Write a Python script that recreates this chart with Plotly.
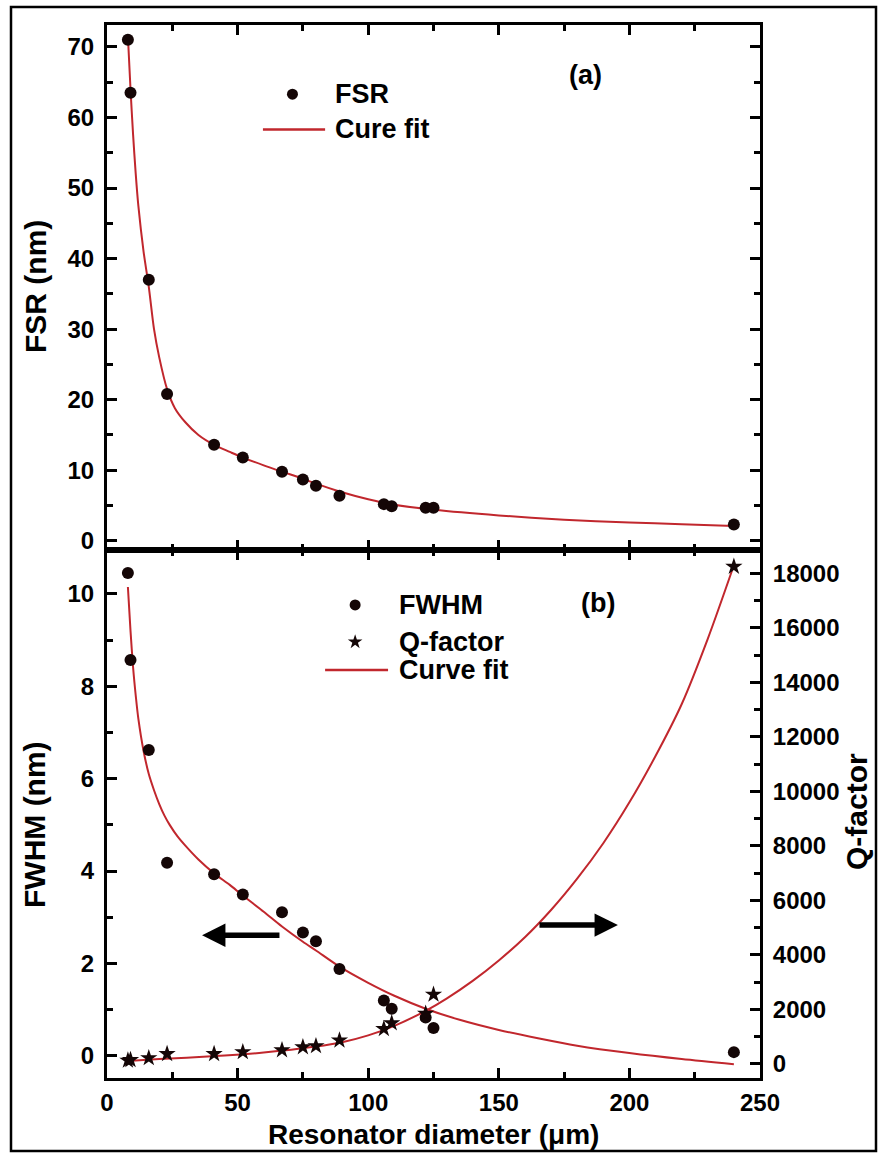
import plotly.graph_objects as go

# ---------------- data ----------------
diam_fsr = [8, 9, 16, 23, 41, 52, 67, 75, 80, 89, 106, 109, 122, 125, 240]
fsr_nm = [71.0, 63.5, 37.0, 20.8, 13.6, 11.8, 9.8, 8.7, 7.8, 6.4, 5.2, 4.9, 4.7, 4.7, 2.3]

fsr_fit_x = [8, 9, 10, 11, 12, 14, 16, 18, 20, 23, 26, 30, 35, 41, 47, 52, 60, 67, 75, 80,
             89, 100, 110, 125, 150, 175, 200, 220, 240]
fsr_fit_y = [71.5, 64.0, 57.5, 52.0, 47.5, 41.0, 36.0, 30.0, 26.0, 21.5, 18.8, 16.8, 15.0,
             13.6, 12.6, 11.8, 10.7, 9.8, 8.8, 8.1, 7.0, 5.9, 5.1, 4.4, 3.6, 3.0, 2.6, 2.35, 2.1]

diam_b = [8, 9, 16, 23, 41, 52, 67, 75, 80, 89, 106, 109, 122, 125, 240]
fwhm_nm = [10.45, 8.57, 6.62, 4.18, 3.93, 3.49, 3.11, 2.67, 2.48, 1.88, 1.20, 1.02, 0.83, 0.60, 0.08]
q_factor = [130, 150, 220, 370, 370, 440, 510, 620, 660, 870, 1290, 1500, 1850, 2550, 18250]

fwhm_fit_x = [8, 9, 10, 11, 12, 14, 16, 18, 20, 22, 24, 27, 30, 35, 41, 47, 52, 60, 67, 75,
              80, 89, 100, 110, 122, 135, 150, 165, 180, 200, 220, 240]
fwhm_fit_y = [10.15, 9.2, 8.4, 7.8, 7.3, 6.6, 6.1, 5.75, 5.45, 5.2, 5.0, 4.75, 4.55, 4.25,
              3.95, 3.7, 3.47, 3.12, 2.8, 2.47, 2.28, 1.93, 1.58, 1.3, 1.02, 0.78, 0.56, 0.38,
              0.22, 0.06, -0.07, -0.18]

q_fit_x = [8, 20, 40, 60, 80, 90, 100, 110, 122, 130, 140, 150, 160, 170, 180, 190, 200,
           210, 220, 230, 240]
q_fit_y = [110, 180, 280, 420, 640, 800, 1050, 1400, 1950, 2400, 3050, 3800, 4650, 5650,
           6800, 8100, 9600, 11300, 13200, 15600, 18300]

x_ticks = [0, 50, 100, 150, 200, 250]

# ---------------- styling ----------------
FONT = "Liberation Sans, Arial, sans-serif"
RED = "#c1272d"
DOT = "#140606"
W, H = 881, 1155
ML, MR, MT, MB = 107, 121, 25, 77
PW, PH = W - ML - MR, H - MT - MB
SPLIT = (1078 - 550) / PH


def px_x(p):
    return (p - ML) / PW


def px_y(p):
    return (H - MB - p) / PH


tickfont = dict(family=FONT, size=24, color="black", weight="bold")
common = dict(showline=True, linecolor="black", linewidth=3, ticks="inside", ticklen=10,
              tickwidth=3, tickcolor="black", showgrid=False, zeroline=False,
              tickfont=tickfont)
minor_style = dict(ticks="inside", ticklen=6, tickwidth=2.5, tickcolor="black")

fig = go.Figure()

# top panel (a)
fig.add_trace(go.Scatter(x=fsr_fit_x, y=fsr_fit_y, mode="lines",
                         line=dict(color=RED, width=2, shape="spline", smoothing=0.8),
                         xaxis="x2", yaxis="y3", showlegend=False, hoverinfo="skip"))
fig.add_trace(go.Scatter(x=diam_fsr, y=fsr_nm, mode="markers", marker=dict(color=DOT, size=12),
                         xaxis="x2", yaxis="y3", showlegend=False))

# bottom panel (b)
fig.add_trace(go.Scatter(x=fwhm_fit_x, y=fwhm_fit_y, mode="lines",
                         line=dict(color=RED, width=2, shape="spline", smoothing=0.8),
                         xaxis="x", yaxis="y", showlegend=False, hoverinfo="skip"))
fig.add_trace(go.Scatter(x=diam_b, y=fwhm_nm, mode="markers", marker=dict(color=DOT, size=12),
                         xaxis="x", yaxis="y", showlegend=False))
fig.add_trace(go.Scatter(x=q_fit_x, y=q_fit_y, mode="lines",
                         line=dict(color=RED, width=2, shape="spline", smoothing=0.8),
                         xaxis="x", yaxis="y2", showlegend=False, hoverinfo="skip"))
fig.add_trace(go.Scatter(x=diam_b, y=q_factor, mode="markers",
                         marker=dict(color=DOT, size=13, symbol="star"),
                         xaxis="x", yaxis="y2", showlegend=False))

# custom legends (positions in data coordinates)
leg_a_sym_x, leg_a_txt_x = 71, 86.5
leg_a_rows = [63.3, 58.3]
leg_b_sym_x, leg_b_txt_x = 95, 111
leg_b_rows = [9.76, 8.96, 8.35]

fig.add_trace(go.Scatter(x=[leg_a_sym_x], y=[leg_a_rows[0]], mode="markers", marker=dict(color=DOT, size=11),
                         xaxis="x2", yaxis="y3", showlegend=False, hoverinfo="skip"))
fig.add_trace(go.Scatter(x=[leg_b_sym_x], y=[leg_b_rows[0]], mode="markers", marker=dict(color=DOT, size=11),
                         xaxis="x", yaxis="y", showlegend=False, hoverinfo="skip"))
fig.add_trace(go.Scatter(x=[leg_b_sym_x], y=[leg_b_rows[1]], mode="markers",
                         marker=dict(color=DOT, size=11, symbol="star"),
                         xaxis="x", yaxis="y", showlegend=False, hoverinfo="skip"))

shapes = [
    dict(type="line", xref="x2", yref="y3", x0=59.7, x1=83.5, y0=leg_a_rows[1], y1=leg_a_rows[1],
         line=dict(color=RED, width=2.5)),
    dict(type="line", xref="x", yref="y", x0=83.5, x1=107.6, y0=leg_b_rows[2], y1=leg_b_rows[2],
         line=dict(color=RED, width=2.5)),
    # outer frame
    dict(type="rect", xref="paper", yref="paper", x0=px_x(11), x1=px_x(876), y0=px_y(1151), y1=px_y(7),
         line=dict(color="black", width=2.5)),
]

legfont = dict(family=FONT, size=27, color="black", weight="bold")
titlefont = dict(family=FONT, size=28, color="black", weight="bold")
vtitlefont = dict(family=FONT, size=30, color="black", weight="bold")


def ann(x, y, text, xref, yref, font=legfont, **kw):
    d = dict(x=x, y=y, xref=xref, yref=yref, text=text, showarrow=False,
             xanchor="center", yanchor="middle", font=font)
    d.update(kw)
    return d


annotations = [
    ann(leg_a_txt_x, leg_a_rows[0], "FSR", "x2", "y3", xanchor="left"),
    ann(leg_a_txt_x, leg_a_rows[1], "Cure fit", "x2", "y3", xanchor="left"),
    ann(183, 66, "(a)", "x2", "y3"),
    ann(leg_b_txt_x, leg_b_rows[0], "FWHM", "x", "y", xanchor="left"),
    ann(leg_b_txt_x, leg_b_rows[1], "Q-factor", "x", "y", xanchor="left"),
    ann(leg_b_txt_x, leg_b_rows[2], "Curve fit", "x", "y", xanchor="left"),
    ann(188, 9.8, "(b)", "x", "y"),
    # axis titles
    ann(px_x(35), px_y(287), "FSR (nm)", "paper", "paper", font=vtitlefont, textangle=-90),
    ann(px_x(35), px_y(825), "FWHM (nm)", "paper", "paper", font=vtitlefont, textangle=-90),
    ann(px_x(856), px_y(812), "Q-factor", "paper", "paper", font=vtitlefont, textangle=-90),
    ann(0.5, px_y(1134), "Resonator diameter (μm)", "paper", "paper", font=titlefont),
    # arrows
    dict(x=36.4, y=2.61, ax=66.6, ay=2.61, xref="x", yref="y", axref="x", ayref="y", text="",
         showarrow=True, arrowhead=2, arrowwidth=5.5, arrowsize=0.85, arrowcolor="black"),
    dict(x=195.6, y=2.83, ax=165, ay=2.83, xref="x", yref="y", axref="x", ayref="y", text="",
         showarrow=True, arrowhead=2, arrowwidth=5.5, arrowsize=0.85, arrowcolor="black"),
]

fig.update_layout(
    width=W, height=H, margin=dict(l=ML, r=MR, t=MT, b=MB),
    plot_bgcolor="white", paper_bgcolor="white", showlegend=False,
    xaxis=dict(range=[0, 250], domain=[0, 1], anchor="y", tickvals=x_ticks, mirror="ticks",
               ticklabelstandoff=1, minor=dict(dtick=25, **minor_style), **common),
    yaxis=dict(range=[-0.48, 10.95], domain=[0, SPLIT], anchor="x", dtick=2, mirror=False,
               ticklabelstandoff=5, minor=dict(dtick=1, **minor_style), **common),
    yaxis2=dict(range=[-514, 18860], overlaying="y", side="right", anchor="x", dtick=2000,
                tickformat="d", ticklabelstandoff=5,
                minor=dict(dtick=1000, **minor_style), **common),
    xaxis2=dict(range=[0, 250], domain=[0, 1], anchor="y3", tickvals=x_ticks, mirror="ticks",
                showticklabels=False, minor=dict(dtick=25, **minor_style), **common),
    yaxis3=dict(range=[-1.3, 73.1], domain=[SPLIT, 1], anchor="x2", dtick=10, mirror="ticks",
                ticklabelstandoff=5, minor=dict(dtick=5, **minor_style), **common),
    shapes=shapes,
    annotations=annotations,
)

fig.write_html("out.html")
